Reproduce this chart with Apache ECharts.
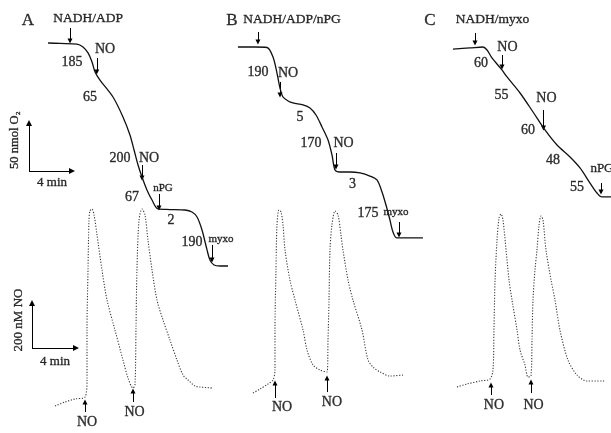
<!DOCTYPE html>
<html><head><meta charset="utf-8">
<script src="https://cdn.jsdelivr.net/npm/echarts@6/dist/echarts.min.js"></script>
<style>html,body{margin:0;padding:0;background:#fff}#c{width:611px;height:433px}</style>
</head><body><div id="c"></div>
<script>
// ---------- O2 traces: [time (min), O2 (nmol)] ----------
const o2A = [[4.47,246.9],[5.58,246.4],[7.16,245.8],[7.72,242.7],[8.19,236.5],[8.56,227.1],[8.84,216.7],[9.30,208.3],[10.51,190.6],[11.44,169.8],[12.09,151.0],[12.47,135.4],[12.84,119.8],[13.21,107.3],[13.67,93.8],[14.14,83.3],[14.70,74.0],[15.81,73.4],[17.21,72.9],[17.86,70.8],[18.33,65.6],[18.79,52.1],[19.26,31.3],[19.53,20.8],[19.91,15.6],[20.47,14.6],[21.21,14.6]];
const o2B = [[0.74,242.7],[2.33,242.7],[3.44,242.2],[4.00,232.3],[4.37,215.6],[4.65,200.0],[4.93,190.6],[5.40,186.5],[5.86,184.4],[6.79,182.3],[7.44,179.2],[8.00,171.9],[8.56,159.4],[9.12,145.8],[9.49,130.2],[9.77,114.6],[10.23,112.5],[11.16,112.5],[12.09,111.5],[13.02,108.3],[13.67,104.2],[14.14,91.7],[14.51,78.1],[14.88,62.5],[15.16,50.0],[15.53,43.8],[17.95,43.8]];
const o2C = [[0.74,240.6],[2.33,241.7],[3.53,242.7],[3.91,239.6],[4.37,231.3],[5.30,218.8],[5.77,211.5],[6.98,194.8],[8.19,175.0],[9.30,156.3],[10.42,140.6],[11.63,128.1],[12.56,116.7],[13.49,101.0],[14.14,90.6],[14.60,86.5],[15.44,86.5]];

// ---------- NO traces: [time (min), NO (nM)] ----------
const noA = [[5.00,62.2],[5.91,80.0],[6.82,93.3],[7.73,102.2],[7.91,177.8],[7.91,400.0],[8.00,666.7],[8.09,888.9],[8.18,928.9],[8.36,937.8],[8.55,911.1],[8.82,822.2],[9.27,666.7],[9.73,533.3],[10.45,400.0],[11.18,266.7],[11.64,186.7],[12.09,142.2],[12.27,155.6],[12.36,400.0],[12.45,666.7],[12.64,888.9],[12.91,937.8],[13.18,911.1],[13.45,800.0],[13.82,666.7],[14.27,533.3],[14.82,444.4],[15.45,355.6],[16.09,266.7],[16.64,200.0],[17.09,177.8],[17.73,151.1],[18.18,146.7],[19.27,142.2]];
const noB = [[2.09,120.0],[2.73,137.8],[3.45,160.0],[3.91,177.8],[4.09,222.2],[4.09,400.0],[4.18,666.7],[4.27,866.7],[4.45,933.3],[4.64,924.4],[4.82,866.7],[5.00,755.6],[5.45,622.2],[5.91,533.3],[6.64,400.0],[7.00,311.1],[7.55,244.4],[8.18,222.2],[8.82,213.3],[8.91,355.6],[9.00,533.3],[9.09,755.6],[9.27,866.7],[9.55,928.9],[9.82,911.1],[10.09,822.2],[10.27,755.6],[10.73,622.2],[11.18,533.3],[12.00,400.0],[12.55,266.7],[13.09,231.1],[13.64,213.3],[14.55,195.6],[15.73,200.0]];
const noC = [[1.09,146.7],[2.00,160.0],[3.18,173.3],[4.09,182.2],[4.36,222.2],[4.45,400.0],[4.55,622.2],[4.73,800.0],[4.91,897.8],[5.09,915.6],[5.27,888.9],[5.55,755.6],[5.82,622.2],[6.09,533.3],[6.55,400.0],[6.82,311.1],[7.27,244.4],[7.55,191.1],[7.82,195.6],[7.91,355.6],[8.00,533.3],[8.18,666.7],[8.36,755.6],[8.55,866.7],[8.73,906.7],[8.91,888.9],[9.18,755.6],[9.64,622.2],[10.00,533.3],[10.45,400.0],[11.18,266.7],[12.00,200.0],[12.91,173.3],[14.55,173.3]];

// ---------- annotations (data units of each panel) ----------
const letters = [[[2.60,270.3,'A']],[[0.19,270.3,'B']],[[-1.40,270.8,'C']]];
const reagents = [[[8.19,272.4,'NADH/ADP']],[[5.77,271.9,'NADH/ADP/nPG']],[[4.42,271.9,'NADH/myxo']]];
const o2Labels = [
  [[6.70,227.1,'185'],[9.77,240.6,'NO'],[8.37,190.6,'65'],[11.16,127.1,'200'],[13.86,127.1,'NO'],[12.28,85.9,'67'],[15.91,62.0,'2'],[17.86,39.6,'190']],
  [[2.60,216.7,'190'],[5.40,215.6,'NO'],[6.51,169.8,'5'],[7.53,142.7,'170'],[10.56,142.7,'NO'],[11.40,99.5,'3'],[12.84,69.8,'175']],
  [[5.81,242.2,'NO'],[3.35,225.5,'60'],[5.26,192.2,'55'],[9.44,189.1,'NO'],[7.72,156.3,'60'],[10.05,125.0,'48'],[12.28,96.9,'55']]
];
const o2Small = [
  [[15.16,95.8,'nPG'],[20.56,42.7,'myxo']],
  [[15.44,70.8,'myxo']],
  [[14.60,115.6,'nPG']]
];
const o2Arrows = [
  [[6.51,262.5,248.9],[9.00,231.3,216.7],[13.21,119.8,106.3],[14.79,89.6,75.0],[19.72,36.5,20.8]],
  [[2.60,258.3,247.9],[4.65,206.3,192.7],[9.86,132.3,117.7],[15.72,60.4,46.9]],
  [[2.79,257.3,246.9],[5.30,234.4,221.9],[9.16,177.1,158.3],[14.51,101.0,91.7]]
];
const noLabels = [
  [[7.91,-11.1,'NO'],[12.23,33.3,'NO']],
  [[4.73,55.6,'NO'],[9.27,80.0,'NO']],
  [[4.45,66.7,'NO'],[8.05,66.7,'NO']]
];
const noArrows = [
  [[7.73,35.6,80.0],[12.09,80.0,128.9]],
  [[4.09,97.8,164.4],[8.82,124.4,186.7]],
  [[4.18,111.1,155.6],[7.82,120.0,168.9]]
];
// scale bars: corner [min, value], lengths
const o2ScaleCorner = [2.70,113.5], o2ScaleMin = 4, o2ScaleNmol = 50;
const noScaleCorner = [2.91,320.0], noScaleMin = 4, noScaleNM = 200;
const o2ScaleText = [[1.40,145.8,'50 nmol O₂'],[4.84,101.0,'4 min']];
const noScaleText = [[1.73,444.4,'200 nM NO'],[5.00,257.8,'4 min']];

// ---------- layout ----------
const panelLeft = [0,230,445], panelWidth = [230,215,166];
const smallSize = [11, 11, 13];
const O2_PX_MIN = 10.75, O2_PX_NMOL = 0.96, NO_PX_MIN = 11, NO_PX_NM = 0.225;
const FONT = 'Liberation Serif, Times New Roman, serif';
const INK = '#000';

const grid = [], xAxis = [], yAxis = [], series = [];
const hid = {show:false, splitLine:{show:false}};
for (let p = 0; p < 3; p++) {
  grid.push({left:panelLeft[p], top:0, width:panelWidth[p], height:280});
  xAxis.push(Object.assign({gridIndex:p, type:'value', min:0, max:panelWidth[p]/O2_PX_MIN}, hid));
  yAxis.push(Object.assign({gridIndex:p, type:'value', min:0, max:280/O2_PX_NMOL}, hid));
}
for (let p = 0; p < 3; p++) {
  grid.push({left:panelLeft[p], top:190, width:panelWidth[p], height:243});
  xAxis.push(Object.assign({gridIndex:3+p, type:'value', min:0, max:panelWidth[p]/NO_PX_MIN}, hid));
  yAxis.push(Object.assign({gridIndex:3+p, type:'value', min:-13/NO_PX_NM, max:230/NO_PX_NM}, hid));
}

function labelSeries(arr, gi, size, extra) {
  return {type:'scatter', xAxisIndex:gi, yAxisIndex:gi, symbolSize:0, clip:false, silent:true,
    data: arr.map(d => ({value:[d[0], d[1]], name:d[2]})),
    label: Object.assign({show:true, position:'inside', formatter:'{b}', color:INK, fontFamily:FONT, fontSize:size,
      textBorderColor:'#000', textBorderWidth:0.35}, extra || {})};
}
function arrowSeries(segs, gi, size) {
  return {type:'lines', coordinateSystem:'cartesian2d', xAxisIndex:gi, yAxisIndex:gi, clip:false, silent:true,
    symbol:['none','triangle'], symbolSize:size || 5,
    lineStyle:{color:INK, width:1, opacity:1, curveness:0},
    data: segs.map(s => ({coords:s}))};
}

const o2Traces = [o2A, o2B, o2C], noTraces = [noA, noB, noC];
for (let p = 0; p < 3; p++) {
  series.push({type:'line', xAxisIndex:p, yAxisIndex:p, data:o2Traces[p], showSymbol:false, smooth:0.3, clip:false,
    lineStyle:{color:'#111', width:1.3}});
  series.push({type:'line', xAxisIndex:3+p, yAxisIndex:3+p, data:noTraces[p], showSymbol:false, smooth:0.3, clip:false,
    lineStyle:{color:'#3a3a3a', width:1.1, type:[1.2,1.6]}});
  series.push(labelSeries(letters[p], p, 17));
  series.push(labelSeries(reagents[p], p, 13.5));
  series.push(labelSeries(o2Labels[p], p, 14));
  series.push(labelSeries(o2Small[p], p, smallSize[p]));
  series.push(arrowSeries(o2Arrows[p].map(a => [[a[0], a[1]], [a[0], a[2]]]), p));
  series.push(labelSeries(noLabels[p], 3+p, 14));
  series.push(arrowSeries(noArrows[p].map(a => [[a[0], a[1]], [a[0], a[2]]]), 3+p));
}
// scale bars
series.push(arrowSeries([
  [o2ScaleCorner, [o2ScaleCorner[0], o2ScaleCorner[1] + o2ScaleNmol]],
  [o2ScaleCorner, [o2ScaleCorner[0] + o2ScaleMin, o2ScaleCorner[1]]]
], 0, 6));
series.push(arrowSeries([
  [noScaleCorner, [noScaleCorner[0], noScaleCorner[1] + noScaleNM]],
  [noScaleCorner, [noScaleCorner[0] + noScaleMin, noScaleCorner[1]]]
], 3, 6));
series.push(labelSeries([o2ScaleText[0]], 0, 12.5, {rotate:90}));
series.push(labelSeries([o2ScaleText[1]], 0, 13));
series.push(labelSeries([noScaleText[0]], 3, 13, {rotate:90}));
series.push(labelSeries([noScaleText[1]], 3, 13));

const chart = echarts.init(document.getElementById('c'));
chart.setOption({animation:false, backgroundColor:'#fff', grid, xAxis, yAxis, series});
</script></body></html>
